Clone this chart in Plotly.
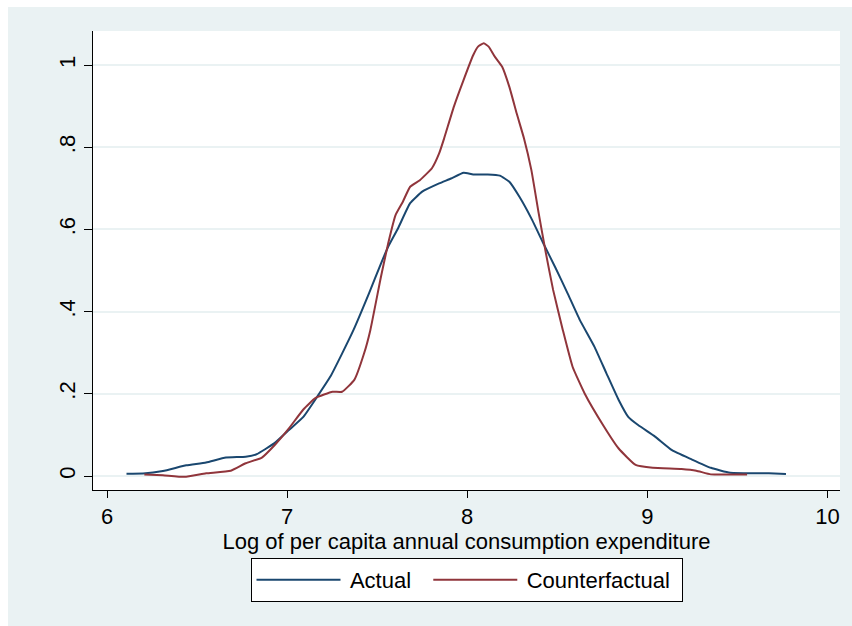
import plotly.graph_objects as go

# Actual density
actual_x = [6.108, 6.20, 6.31, 6.44, 6.55, 6.66, 6.77, 6.83, 6.93, 7.01, 7.09, 7.17, 7.24, 7.305,
            7.368, 7.454, 7.521, 7.561, 7.616, 7.683, 7.75, 7.844, 7.91, 7.98, 8.033, 8.114, 8.181,
            8.234, 8.289, 8.356, 8.423, 8.49, 8.558, 8.625, 8.706, 8.773, 8.841, 8.894, 8.949,
            9.043, 9.137, 9.244, 9.353, 9.46, 9.675, 9.77]
actual_y = [0.0056, 0.006, 0.012, 0.026, 0.033, 0.045, 0.047, 0.053, 0.080, 0.112, 0.144, 0.195, 0.242, 0.298,
            0.355, 0.444, 0.517, 0.558, 0.603, 0.664, 0.692, 0.712, 0.724, 0.738, 0.734, 0.734, 0.731,
            0.716, 0.680, 0.627, 0.566, 0.507, 0.444, 0.380, 0.315, 0.250, 0.185, 0.144, 0.124,
            0.096, 0.063, 0.041, 0.020, 0.008, 0.0065, 0.005]

# Counterfactual density
cf_x = [6.207, 6.31, 6.43, 6.55, 6.687, 6.77, 6.86, 6.93, 7.01, 7.09, 7.158, 7.252, 7.305, 7.373, 7.427,
        7.462, 7.521, 7.561, 7.602, 7.642, 7.683, 7.737, 7.804, 7.844, 7.872, 7.926, 7.979, 8.033,
        8.06, 8.092, 8.119, 8.154, 8.194, 8.234, 8.275, 8.315, 8.356, 8.397, 8.437, 8.477, 8.531,
        8.585, 8.652, 8.76, 8.841, 8.935, 9.03, 9.19, 9.272, 9.353, 9.554]
cf_y = [0.004, 0.002, -0.002, 0.0065, 0.013, 0.031, 0.045, 0.075, 0.116, 0.162, 0.190, 0.205, 0.205, 0.234, 0.298,
        0.355, 0.485, 0.566, 0.635, 0.667, 0.704, 0.720, 0.749, 0.785, 0.822, 0.899, 0.963, 1.024,
        1.045, 1.053, 1.045, 1.020, 0.996, 0.947, 0.882, 0.822, 0.745, 0.639, 0.542, 0.453, 0.355,
        0.266, 0.201, 0.120, 0.067, 0.027, 0.020, 0.017, 0.013, 0.004, 0.004]

x_ticks = [6, 7, 8, 9, 10]
y_ticks = [0, 0.2, 0.4, 0.6, 0.8, 1]
y_tick_text = ["0", ".2", ".4", ".6", ".8", "1"]

BG = "#EAF2F3"
FONT = "Liberation Sans, Arial, sans-serif"

fig = go.Figure()
fig.add_trace(go.Scatter(x=actual_x, y=actual_y, mode="lines", name="\u2009Actual\u00a0\u00a0",
                         line=dict(color="#1A476F", width=2, shape="spline", smoothing=0.4)))
fig.add_trace(go.Scatter(x=cf_x, y=cf_y, mode="lines", name="\u2009Counterfactual\u00a0",
                         line=dict(color="#90353B", width=2, shape="spline", smoothing=0.4)))

W, H = 852, 626
ml, mr, mt, mb = 93, 12, 31, 136
pw, ph = W - ml - mr, H - mt - mb

def px2paper_x(p):
    return (p - ml) / pw

def py2paper_y(p):
    return (H - mb - p) / ph

fig.update_layout(
    width=W, height=H,
    margin=dict(l=ml, r=mr, t=mt, b=mb),
    paper_bgcolor=BG,
    plot_bgcolor="white",
    font=dict(family=FONT, size=22, color="black"),
    showlegend=True,
    legend=dict(orientation="h", x=0.5, xanchor="center", y=py2paper_y(558), yanchor="top",
                bgcolor="white", bordercolor="black", borderwidth=1,
                font=dict(size=22), itemwidth=84),
    shapes=[
        dict(type="rect", xref="paper", yref="paper", x0=px2paper_x(0), x1=px2paper_x(W),
             y0=py2paper_y(7), y1=py2paper_y(0), fillcolor="white", line=dict(width=0), layer="below"),
        dict(type="rect", xref="paper", yref="paper", x0=px2paper_x(0), x1=px2paper_x(8),
             y0=py2paper_y(H), y1=py2paper_y(0), fillcolor="white", line=dict(width=0), layer="below"),
    ],
)

fig.update_xaxes(range=[5.922, 10.07], tickvals=x_ticks, ticktext=[str(v) for v in x_ticks],
                 showgrid=False, zeroline=False, showline=True, linecolor="black", linewidth=1,
                 ticks="outside", ticklen=7, tickcolor="black", automargin=True,
                 title=dict(text="Log of per capita annual consumption expenditure", standoff=2,
                            font=dict(size=22)))
fig.update_yaxes(range=[-0.034, 1.083], tickvals=y_ticks, ticktext=y_tick_text, tickangle=-90,
                 showgrid=True, gridcolor=BG, gridwidth=1.5, zeroline=False,
                 showline=True, linecolor="black", linewidth=1,
                 ticks="outside", ticklen=8, tickcolor="black")

fig.write_html("out.html")
